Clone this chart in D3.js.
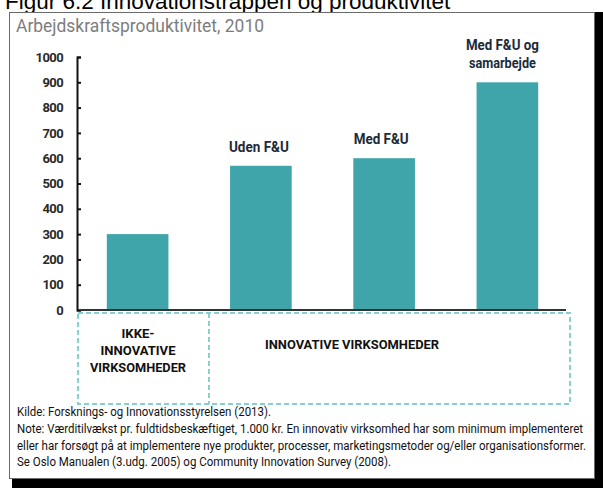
<!DOCTYPE html>
<html><head><meta charset="utf-8">
<script src="https://cdn.jsdelivr.net/npm/d3@7"></script>
<style>
body{margin:0;background:#fff;}
svg{display:block;}
</style></head>
<body>
<svg id="c" width="603" height="488"></svg>
<script>
const categories = ["Ikke-innovative", "Uden F&U", "Med F&U", "Med F&U og samarbejde"];
const values = [300, 570, 600, 900];
const barLabels = [[], ["Uden F&U"], ["Med F&U"], ["Med F&U og", "samarbejde"]];
const yTicks = [0, 100, 200, 300, 400, 500, 600, 700, 800, 900, 1000];
const groupLeft = ["IKKE-", "INNOVATIVE", "VIRKSOMHEDER"];
const groupRight = ["INNOVATIVE VIRKSOMHEDER"];
const figTitle = "Figur 6.2 Innovationstrappen og produktivitet";
const subTitle = "Arbejdskraftsproduktivitet, 2010";
const notes = [
  "Kilde: Forsknings- og Innovationsstyrelsen (2013).",
  "Note: Værditilvækst pr. fuldtidsbeskæftiget, 1.000 kr. En innovativ virksomhed har som minimum implementeret",
  "eller har forsøgt på at implementere nye produkter, processer, marketingsmetoder og/eller organisationsformer.",
  "Se Oslo Manualen (3.udg. 2005) og Community Innovation Survey (2008)."
];

const svg = d3.select("#c");
const FONT = 'Roboto, "Open Sans", sans-serif';

function ctext(g, t, xpos, ypos, size, width, opts = {}) {
  const el = g.append("text").attr("x", xpos).attr("y", ypos)
    .attr("font-family", FONT).attr("font-size", size)
    .attr("font-weight", opts.bold ? "bold" : "normal")
    .attr("fill", opts.fill || "#111")
    .attr("text-anchor", opts.anchor || "start").text(t);
  if (width) el.attr("textLength", width).attr("lengthAdjust", "spacingAndGlyphs");
  return el;
}

// figure title (cut at top, partly hidden by frame)
svg.append("text").attr("x",5).attr("y",9).attr("font-family","Liberation Sans, Arial, sans-serif")
  .attr("font-size",22.5).attr("fill","#000").text(figTitle);

// shadow + frame
svg.append("rect").attr("x",12).attr("y",12).attr("width",591).attr("height",476).attr("fill","#000");
svg.append("rect").attr("x",9.5).attr("y",12.5).attr("width",585).attr("height",466).attr("fill","#fff").attr("stroke","#6a6a6a").attr("stroke-width",1);

ctext(svg, subTitle, 16, 32, 17.5, 248, {fill:"#7d7d7d"});

const x = d3.scaleBand().domain(categories).range([76, 569]).paddingInner(0.5).paddingOuter(0.25);
const y = d3.scaleLinear().domain([0, 1000]).range([310, 57]);

// bars
svg.append("g").selectAll("rect").data(categories).join("rect")
  .attr("x", d => x(d)).attr("width", x.bandwidth())
  .attr("y", (d,i) => y(values[i])).attr("height", (d,i) => y(0) - y(values[i]))
  .attr("fill", "#3fa5aa");

// y axis
const ax = svg.append("g").attr("transform","translate(77,0)")
  .call(d3.axisLeft(y).tickValues(yTicks).tickFormat(d3.format("d")).tickSize(-4).tickPadding(14));
ax.select(".domain").attr("stroke","#111").attr("stroke-width",2);
ax.selectAll(".tick line").attr("stroke","#111").attr("stroke-width",2);
ax.selectAll(".tick text").attr("font-family",FONT).attr("font-weight","bold")
  .attr("font-size",13).attr("fill","#2a2a2a").attr("letter-spacing","-0.6");

// baseline
svg.append("line").attr("x1",80).attr("x2",566).attr("y1",y(0)).attr("y2",y(0))
  .attr("stroke","#333").attr("stroke-width",2);

// bar labels
const lblWidths = [[], [60], [55], [73, 67]];
const lblShift = [0, -2, -3, -5];
categories.forEach((c,i) => {
  const lines = barLabels[i];
  const cx = x(c) + x.bandwidth()/2 + lblShift[i];
  const last = y(values[i]) - 14;
  lines.forEach((t,j) => {
    const by = last - (lines.length - 1 - j) * 18;
    ctext(svg, t, cx, by, 14, lblWidths[i][j], {bold:true, anchor:"middle", fill:"#1c2b3a"});
  });
});

// dashed group box
const box = svg.append("g").attr("fill","none").attr("stroke","#86d0d3").attr("stroke-width",2).attr("stroke-dasharray","5,3");
box.append("rect").attr("x",78).attr("y",313).attr("width",492).attr("height",91);
box.append("line").attr("x1",209).attr("x2",209).attr("y1",313).attr("y2",404);

const glW = [33, 75, 96];
groupLeft.forEach((t,j) => {
  ctext(svg, t, 138, 338 + j*17, 13.5, glW[j], {bold:true, anchor:"middle"});
});
ctext(svg, groupRight[0], 352, 349, 13.5, 174, {bold:true, anchor:"middle"});

// notes
const noteW = [254, 566, 569, 374];
notes.forEach((t,j) => {
  ctext(svg, t, 17, 416 + j*16.8, 12.5, noteW[j], {fill:"#111"});
});
</script>
</body></html>
